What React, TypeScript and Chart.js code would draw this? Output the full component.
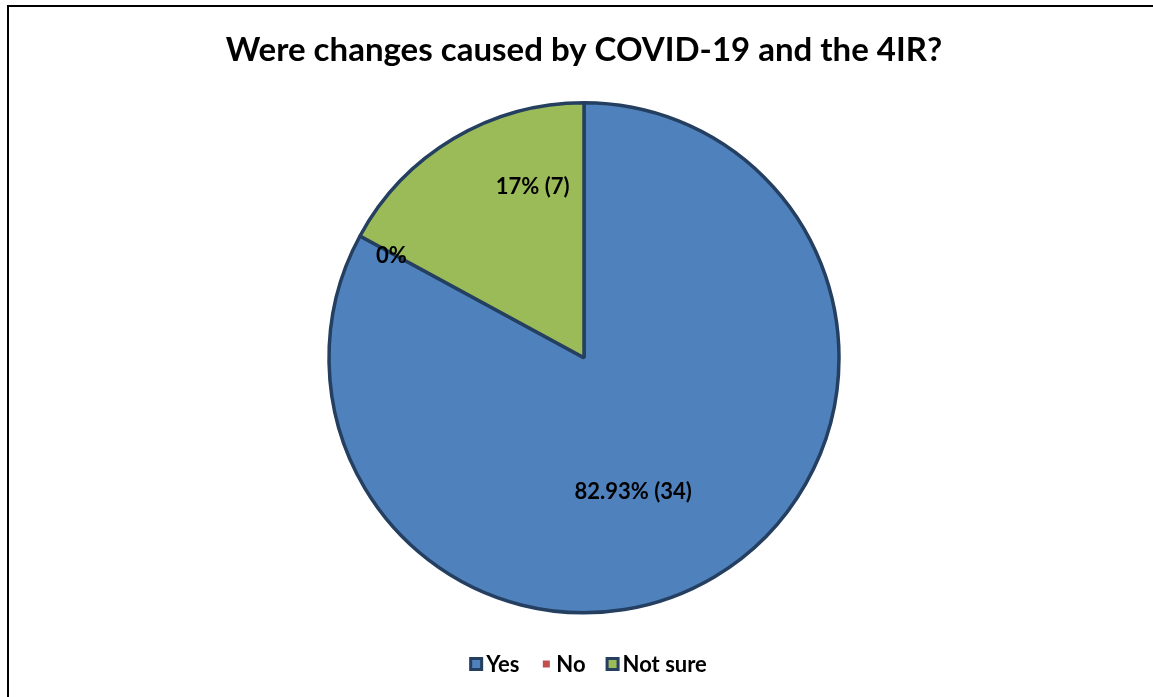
import React, { useEffect, useRef } from "react";
import { Chart, registerables } from "chart.js";

Chart.register(...registerables);

const TITLE = "Were changes caused by COVID-19 and the 4IR?";
const categories = ["Yes", "No", "Not sure"];
const counts = [34, 0, 7];
const dataLabels = ["82.93% (34)", "0%", "17% (7)"];
const sliceColors = ["#4F81BD", "#C0504D", "#9BBB59"];
const BORDER_COLOR = "#243F60";
const FONT = "Lato, 'Open Sans', sans-serif";

// data label placement: angle shift (deg) from slice mid-angle, radius fraction
const labelPlacement = [
  { shift: 10.6, frac: 0.56 },
  { shift: -0.6, frac: 0.855 },
  { shift: 14, frac: 0.7 },
];

const labelPlugin = {
  id: "sliceLabels",
  afterDatasetsDraw(chart: any) {
    const meta = chart.getDatasetMeta(0);
    const ctx = chart.ctx;
    ctx.save();
    ctx.font = `bold 22px ${FONT}`;
    ctx.fillStyle = "#000";
    ctx.textAlign = "center";
    ctx.textBaseline = "middle";
    meta.data.forEach((arc: any, i: number) => {
      const p = arc.getProps(["x", "y", "startAngle", "endAngle", "outerRadius"], true);
      const a = (p.startAngle + p.endAngle) / 2 + (labelPlacement[i].shift * Math.PI) / 180;
      const r = p.outerRadius * labelPlacement[i].frac;
      ctx.fillText(dataLabels[i], p.x + Math.cos(a) * r, p.y + Math.sin(a) * r);
    });
    ctx.restore();
  },
};

const legendPlugin = {
  id: "bottomLegend",
  afterDraw(chart: any) {
    const ctx = chart.ctx;
    const area = chart.chartArea;
    ctx.save();
    ctx.font = `bold 22px ${FONT}`;
    ctx.textBaseline = "middle";
    ctx.textAlign = "left";
    const keyW = 14;
    const gapText = 3;
    const gapItem = 20;
    const widths = categories.map((c) => keyW + gapText + ctx.measureText(c).width);
    const total = widths.reduce((s, w) => s + w, 0) + gapItem * (categories.length - 1);
    const cy = area.bottom + 49;
    let x = (area.left + area.right) / 2 + 4 - total / 2;
    categories.forEach((c, i) => {
      if (counts[i] > 0) {
        ctx.fillStyle = BORDER_COLOR;
        ctx.fillRect(x, cy - keyW / 2, keyW, keyW);
        ctx.fillStyle = sliceColors[i];
        ctx.fillRect(x + 3, cy - keyW / 2 + 3, keyW - 6, keyW - 6);
      } else {
        ctx.fillStyle = sliceColors[i];
        ctx.fillRect(x + 3.5, cy - 3.5, 7, 7);
      }
      ctx.fillStyle = "#000";
      ctx.fillText(c, x + keyW + gapText, cy + 1);
      x += widths[i] + gapItem;
    });
    ctx.restore();
  },
};

export default function App() {
  const ref = useRef<HTMLCanvasElement | null>(null);
  useEffect(() => {
    if (!ref.current) return;
    const chart = new Chart(ref.current, {
      type: "pie",
      data: {
        labels: categories,
        datasets: [
          {
            data: counts,
            backgroundColor: sliceColors,
            borderColor: BORDER_COLOR,
            borderWidth: 3.5,
          },
        ],
      },
      options: {
        responsive: false,
        animation: false,
        radius: 255,
        layout: { padding: { left: 15, right: 0, top: 0, bottom: 82 } },
        plugins: {
          legend: { display: false },
          tooltip: { enabled: false },
          title: {
            display: true,
            text: TITLE,
            color: "#000",
            font: { family: FONT, size: 33, weight: "bold", lineHeight: 1.2 },
            padding: { top: 31, bottom: 30 },
          },
        },
      } as any,
      plugins: [labelPlugin, legendPlugin],
    });
    return () => chart.destroy();
  }, []);
  return (
    <div style={{ position: "fixed", left: 0, top: 0, width: 1153, height: 697, background: "#fff" }}>
      <canvas ref={ref} width={1153} height={697} style={{ display: "block" }} />
      <div
        style={{
          position: "absolute",
          left: 7,
          top: 5,
          right: 0,
          bottom: 0,
          borderTop: "2px solid #000",
          borderLeft: "2px solid #000",
          pointerEvents: "none",
        }}
      />
    </div>
  );
}
